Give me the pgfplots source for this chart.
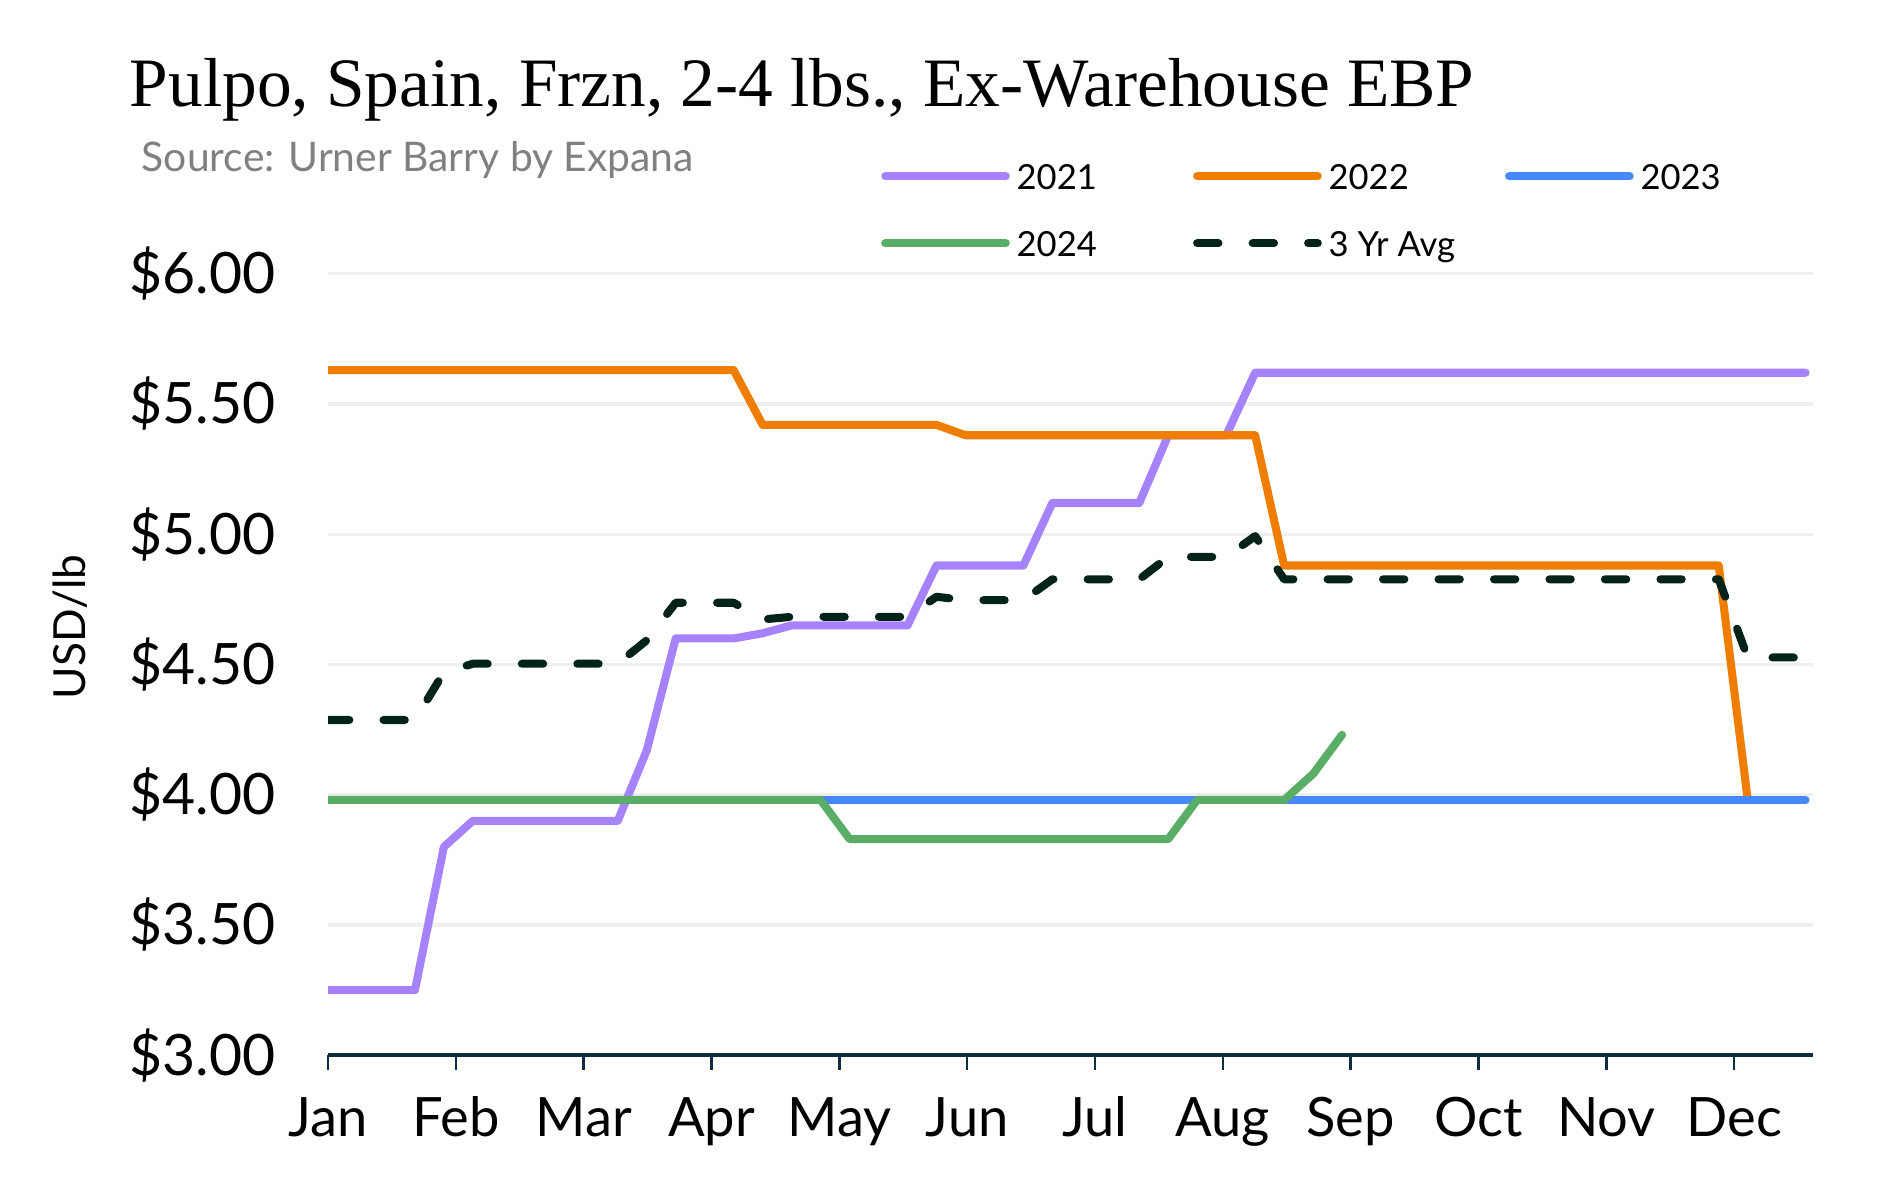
\documentclass[border=0pt]{standalone}
\usepackage{pgfplots}
\usepackage{pgfplotstable}
\usepackage{fontspec}
\pgfplotsset{compat=1.18}
\setmainfont{Lato}
\newfontfamily\titlefont{Liberation Serif}
\definecolor{c21}{HTML}{A683FC}
\definecolor{c22}{HTML}{EF7D00}
\definecolor{c23}{HTML}{4689FF}
\definecolor{c24}{HTML}{5AAD66}
\definecolor{cavg}{HTML}{022318}
\definecolor{axisc}{HTML}{0E2D3F}
\definecolor{gridc}{HTML}{EFEFEF}
\definecolor{subc}{HTML}{808080}

\pgfplotstableread{
week y21 y22 y23 y24 avg
0 3.25 5.63 3.98 3.98 4.287
1 3.25 5.63 3.98 3.98 4.287
2 3.25 5.63 3.98 3.98 4.287
3 3.25 5.63 3.98 3.98 4.287
4 3.80 5.63 3.98 3.98 4.470
5 3.90 5.63 3.98 3.98 4.503
6 3.90 5.63 3.98 3.98 4.503
7 3.90 5.63 3.98 3.98 4.503
8 3.90 5.63 3.98 3.98 4.503
9 3.90 5.63 3.98 3.98 4.503
10 3.90 5.63 3.98 3.98 4.503
11 4.17 5.63 3.98 3.98 4.593
12 4.60 5.63 3.98 3.98 4.737
13 4.60 5.63 3.98 3.98 4.737
14 4.60 5.63 3.98 3.98 4.737
15 4.62 5.42 3.98 3.98 4.673
16 4.65 5.42 3.98 3.98 4.683
17 4.65 5.42 3.98 3.98 4.683
18 4.65 5.42 3.98 3.83 4.683
19 4.65 5.42 3.98 3.83 4.683
20 4.65 5.42 3.98 3.83 4.683
21 4.88 5.42 3.98 3.83 4.760
22 4.88 5.38 3.98 3.83 4.747
23 4.88 5.38 3.98 3.83 4.747
24 4.88 5.38 3.98 3.83 4.747
25 5.12 5.38 3.98 3.83 4.827
26 5.12 5.38 3.98 3.83 4.827
27 5.12 5.38 3.98 3.83 4.827
28 5.12 5.38 3.98 3.83 4.827
29 5.38 5.38 3.98 3.83 4.913
30 5.38 5.38 3.98 3.98 4.913
31 5.38 5.38 3.98 3.98 4.913
32 5.62 5.38 3.98 3.98 4.993
33 5.62 4.88 3.98 3.98 4.827
34 5.62 4.88 3.98 4.08 4.827
35 5.62 4.88 3.98 4.23 4.827
36 5.62 4.88 3.98 nan 4.827
37 5.62 4.88 3.98 nan 4.827
38 5.62 4.88 3.98 nan 4.827
39 5.62 4.88 3.98 nan 4.827
40 5.62 4.88 3.98 nan 4.827
41 5.62 4.88 3.98 nan 4.827
42 5.62 4.88 3.98 nan 4.827
43 5.62 4.88 3.98 nan 4.827
44 5.62 4.88 3.98 nan 4.827
45 5.62 4.88 3.98 nan 4.827
46 5.62 4.88 3.98 nan 4.827
47 5.62 4.88 3.98 nan 4.827
48 5.62 4.88 3.98 nan 4.827
49 5.62 3.98 3.98 nan 4.527
50 5.62 nan 3.98 nan 4.527
51 5.62 nan 3.98 nan 4.527
}\datatable

\begin{document}
\begin{tikzpicture}
\useasboundingbox (-81.6pt,-36.9pt) rectangle (388.8pt,262.5pt);
\begin{axis}[
  at={(0pt,0pt)}, anchor=south west,
  scale only axis,
  width=369.3pt, height=194.4pt,
  xmin=0, xmax=51.24, ymin=3, ymax=6,
  axis x line*=bottom, axis y line*=left,
  x axis line style={draw=axisc, line width=0.9pt},
  y axis line style={draw=none},
  ytick={3,3.5,4,4.5,5,5.5,6},
  yticklabels={\$3.00,\$3.50,\$4.00,\$4.50,\$5.00,\$5.50,\$6.00},
  xtick={0,4.412,8.824,13.236,17.648,22.06,26.472,30.884,35.296,39.708,44.12,48.532},
  xticklabels={Jan,Feb,Mar,Apr,May,Jun,Jul,Aug,Sep,Oct,Nov,Dec},
  ymajorgrids, grid style={draw=gridc, line width=0.8pt},
  ytick style={draw=none},
  xtick style={draw=axisc, line width=0.6pt},
  tick align=outside, major tick length=3.6pt,
  ticklabel style={inner sep=0pt},
  yticklabel style={anchor=east, xshift=-9.3pt, font=\fontsize{14.2}{16}\selectfont},
  xticklabel style={anchor=base, yshift=-16.7pt, font=\fontsize{13.5}{15}\selectfont},
  ylabel={USD/lb},
  ylabel style={at={(axis description cs:-0.1738,0.548)}, anchor=center, font=\fontsize{11}{13}\selectfont},
  unbounded coords=jump,
  every axis plot/.append style={line width=2.0pt, line join=round, line cap=round},
  legend columns=3,
  legend cell align=left,
  legend image code/.code={\draw[#1] (0pt,0pt) -- (30pt,0pt);},
  legend style={at={(axis description cs:0.3726,1.1487)}, anchor=north west,
    draw=none, fill=none, inner sep=0pt, outer sep=0pt,
    nodes={inner sep=0pt, outer sep=0pt},
    row sep=7.3pt,
    font=\fontsize{8.6}{10}\selectfont,
    /tikz/every odd column/.append style={column sep=1.7pt}},
]
\addplot[c21] table[x=week, y=y21] {\datatable};
\addlegendentry{\makebox[43.9pt][l]{\rule[-3.15pt]{0pt}{11pt}2021}}
\addplot[c22] table[x=week, y=y22] {\datatable};
\addlegendentry{\makebox[43.9pt][l]{\rule[-3.15pt]{0pt}{11pt}2022}}
\addplot[c23] table[x=week, y=y23] {\datatable};
\addlegendentry{\rule[-3.15pt]{0pt}{11pt}2023}
\addplot[c24] table[x=week, y=y24] {\datatable};
\addlegendentry{\makebox[43.9pt][l]{\rule[-3.15pt]{0pt}{11pt}2024}}
\addplot[cavg, dash pattern=on 5.3pt off 8.5pt] table[x=week, y=avg] {\datatable};
\addlegendentry{\makebox[43.9pt][l]{\rule[-3.15pt]{0pt}{11pt}3 Yr Avg}}
\end{axis}
\node[anchor=base west, inner sep=0pt] at (-49.5pt,236.1pt) {\titlefont\fontsize{17.25}{20}\selectfont Pulpo, Spain, Frzn, 2-4 lbs., Ex-Warehouse EBP};
\node[anchor=base west, inner sep=0pt, text=subc] at (-46.5pt,219.8pt) {\fontsize{10.15}{12}\selectfont Source: Urner Barry by Expana};
\end{tikzpicture}
\end{document}
